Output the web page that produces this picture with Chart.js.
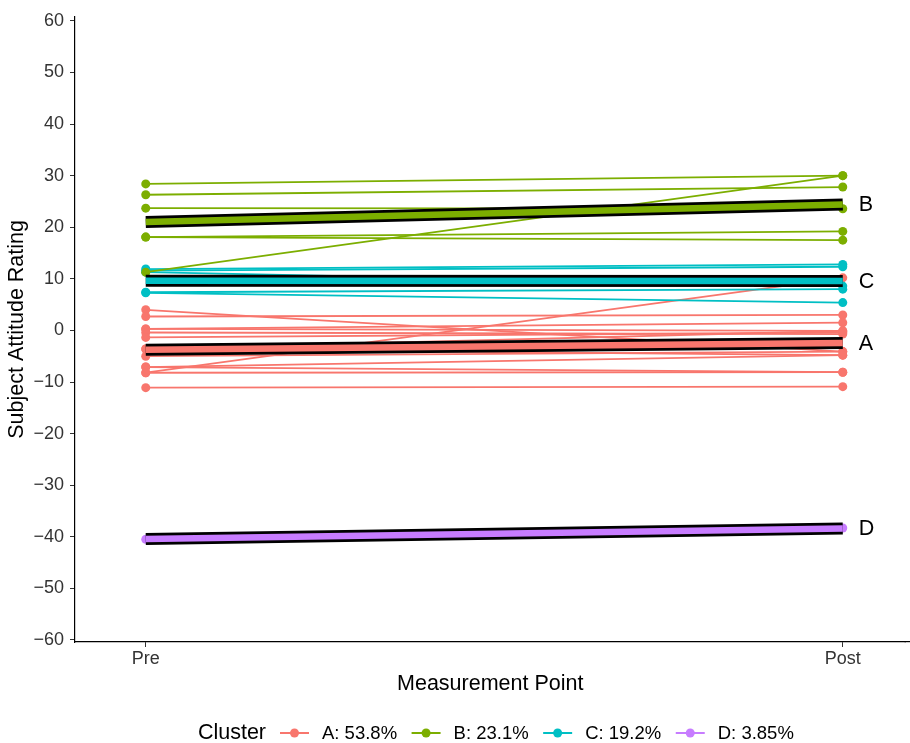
<!DOCTYPE html>
<html>
<head>
<meta charset="utf-8">
<script src="https://cdn.jsdelivr.net/npm/chart.js@4"></script>
<style>
  html, body { margin: 0; padding: 0; background: #fff; }
  #wrap { width: 910px; height: 743px; }
</style>
</head>
<body>
<div id="wrap"><canvas id="chart" width="910" height="743"></canvas></div>
<script>
// measurement points and axis ticks
const measurePoints = ['Pre', 'Post'];
const yTicks = [-60, -50, -40, -30, -20, -10, 0, 10, 20, 30, 40, 50, 60];

// clusters
const clusterNames = ['A', 'B', 'C', 'D'];
const clusterShares = ['53.8%', '23.1%', '19.2%', '3.85%'];
const clusterColors = ['#F8766D', '#7CAE00', '#00BFC4', '#C77CFF'];

// subject ratings per cluster (pre / post, same order = same subject)
const aPre  = [4.0, 2.7, 0.3, 0.3, -0.4, -1.35, -3.6, -3.6, -5.0, -7.1, -7.1, -8.2, -8.2, -11.1];
const aPost = [-4.1, 3.0, 1.5, -0.1, -0.7, -0.4, -0.1, -4.8, -4.1, -4.8, -8.1, 10.2, -8.1, -10.9];
const bPre  = [28.4, 26.3, 23.7, 18.1, 18.1, 11.3];
const bPost = [30.0, 27.8, 23.6, 19.2, 17.5, 30.0];
const cPre  = [11.9, 11.6, 11.3, 7.4, 7.3];
const cPost = [12.8, 12.35, 8.6, 8.0, 5.4];
const dPre  = [-40.5];
const dPost = [-38.3];

// cluster mean trajectories (A, B, C, D)
const meanPre  = [-3.75, 21.0, 9.65, -40.45];
const meanPost = [-2.45, 24.4, 9.6, -38.4];

const FONT = "'Liberation Sans', Arial, Helvetica, sans-serif";
Chart.defaults.font.family = FONT;

function subjectSets(pre, post, color) {
  return pre.map((v, i) => ({
    data: [{ x: 1, y: v }, { x: 2, y: post[i] }],
    borderColor: color,
    backgroundColor: color,
    borderWidth: 1.8,
    pointRadius: 4.5,
    pointBorderWidth: 0,
    pointHoverRadius: 4.5
  }));
}

function meanSets(k) {
  const pts = [{ x: 1, y: meanPre[k] }, { x: 2, y: meanPost[k] }];
  return [
    { data: pts, borderColor: '#000', borderWidth: 12, pointRadius: 0, borderCapStyle: 'butt' },
    { data: pts, borderColor: clusterColors[k], borderWidth: 6.5, pointRadius: 0, borderCapStyle: 'butt' }
  ];
}

// bottom-to-top drawing order
let drawOrder = [];
drawOrder = drawOrder.concat(subjectSets(aPre, aPost, clusterColors[0]));
drawOrder = drawOrder.concat(subjectSets(cPre, cPost, clusterColors[2]));
drawOrder = drawOrder.concat(subjectSets(bPre, bPost, clusterColors[1]));
drawOrder = drawOrder.concat(subjectSets(dPre, dPost, clusterColors[3]));
for (let k = 0; k < 4; k++) drawOrder = drawOrder.concat(meanSets(k));
// chart.js paints the first dataset last
const datasets = drawOrder.reverse();

const labelsAndLegend = {
  id: 'labelsAndLegend',
  afterDraw(chart) {
    const ctx = chart.ctx;
    const xs = chart.scales.x, ys = chart.scales.y;
    ctx.save();
    // x axis line runs on to the edge of the panel (same pixel alignment as the border)
    const by = Math.round(ys.bottom - 0.6) + 0.6;
    ctx.strokeStyle = '#000';
    ctx.lineWidth = 1.2;
    ctx.beginPath();
    ctx.moveTo(xs.right - 1, by);
    ctx.lineTo(chart.width, by);
    ctx.stroke();

    // cluster letters next to the Post end of each mean line
    ctx.fillStyle = '#000';
    ctx.font = '21.5px ' + FONT;
    ctx.textAlign = 'left';
    ctx.textBaseline = 'middle';
    clusterNames.forEach((n, k) => {
      ctx.fillText(n, xs.getPixelForValue(2) + 16, ys.getPixelForValue(meanPost[k]) + 1);
    });

    // legend
    const ly = 733;
    ctx.font = '21.5px ' + FONT;
    ctx.textAlign = 'right';
    ctx.fillText('Cluster', 266, ly);
    ctx.font = '18.5px ' + FONT;
    ctx.textAlign = 'left';
    let x = 280;
    clusterNames.forEach((n, k) => {
      ctx.strokeStyle = clusterColors[k];
      ctx.fillStyle = clusterColors[k];
      ctx.lineWidth = 2;
      ctx.beginPath();
      ctx.moveTo(x, ly);
      ctx.lineTo(x + 29, ly);
      ctx.stroke();
      ctx.beginPath();
      ctx.arc(x + 14.5, ly, 4.5, 0, Math.PI * 2);
      ctx.fill();
      const txt = n + ': ' + clusterShares[k];
      ctx.fillStyle = '#000';
      ctx.fillText(txt, x + 42, ly + 1);
      x += 42 + ctx.measureText(txt).width + 14.5;
    });
    ctx.restore();
  }
};

new Chart(document.getElementById('chart'), {
  type: 'line',
  data: { datasets: datasets },
  options: {
    responsive: false,
    animation: false,
    layout: { padding: { top: 14, left: 0, right: 0, bottom: 41 } },
    plugins: { legend: { display: false }, tooltip: { enabled: false } },
    scales: {
      x: {
        type: 'linear',
        min: 0.8985,
        max: 2.09,
        afterBuildTicks: s => { s.ticks = [1, 2].map(v => ({ value: v })); },
        afterFit: s => { s.height = 60; },
        ticks: {
          color: '#333',
          font: { size: 18 },
          padding: 1.5,
          callback: v => measurePoints[v - 1]
        },
        grid: { display: true, drawOnChartArea: false, drawTicks: true, tickLength: 5, color: '#333', lineWidth: 1 },
        border: { display: true, color: '#000', width: 1.2 },
        title: { display: true, text: 'Measurement Point', color: '#000', font: { size: 21.5 }, padding: { top: 0, bottom: 5 } }
      },
      y: {
        type: 'linear',
        min: -60.4,
        max: 60.8,
        afterBuildTicks: s => { s.ticks = yTicks.map(v => ({ value: v })); },
        afterFit: s => { s.width = 75; },
        ticks: {
          color: '#333',
          font: { size: 18 },
          padding: 6,
          callback: v => (v < 0 ? '\u2212' + Math.abs(v) : String(v))
        },
        grid: { display: true, drawOnChartArea: false, drawTicks: true, tickLength: 5, color: '#333', lineWidth: 1 },
        border: { display: true, color: '#000', width: 1.2 },
        title: { display: true, text: 'Subject Attitude Rating', color: '#000', font: { size: 21.5 }, padding: { top: 4, bottom: 0 } }
      }
    }
  },
  plugins: [labelsAndLegend]
});
</script>
</body>
</html>
